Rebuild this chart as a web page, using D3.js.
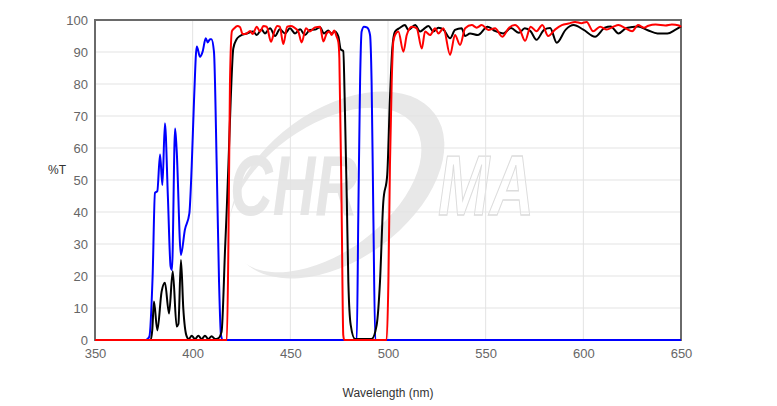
<!DOCTYPE html>
<html><head><meta charset="utf-8">
<script src="https://cdn.jsdelivr.net/npm/d3@7"></script>
<style>html,body{margin:0;padding:0;background:#fff;}svg{display:block;font-family:"Liberation Sans",Arial,sans-serif;}</style>
</head><body>
<script>
const xTicks = [350,400,450,500,550,600,650];
const yTicks = [0,10,20,30,40,50,60,70,80,90,100];
const xTitle = "Wavelength (nm)";
const yTitle = "%T";
const blueSeries = [[350,0],[376,0],[377.8,1],[379.5,20],[380.7,46],[381.9,46.5],[383.3,58],[384.5,48.4],[385.8,67.7],[387.3,45],[388.7,23],[389.4,21.9],[391,66.1],[391.8,59.4],[394,26.6],[396,34.4],[398.3,39.6],[399.5,54.2],[400.7,75],[402.1,91.7],[403.8,88.5],[405.1,90.1],[406.7,94.3],[407.7,93],[408.9,94],[409.6,94],[410.9,90.1],[412.3,54.7],[413.5,18.2],[414.5,1.5],[415.5,0],[484,0],[484.8,39],[485.7,80.7],[486.5,96.4],[487.7,97.9],[489.4,97.6],[490.8,95.3],[491.6,80.7],[492.5,39],[493.5,0],[650,0]];
const blackSeries = [[350,0],[378.5,0],[379.3,3],[380.2,12],[381.9,3],[384.1,15.1],[385.8,17.9],[387.9,8.3],[389.8,21.5],[391.8,4.2],[392.7,5],[394,25],[395.2,9.9],[396.9,1.2],[398,0.3],[399.5,1.3],[401.2,0.3],[402.9,1.3],[404.6,0.3],[406.3,1.3],[408,0.3],[409.7,1.2],[411.5,0.3],[413,0.5],[414.8,2.6],[416.6,28.6],[417.4,40.1],[418.3,54.7],[419.5,75.5],[420.8,91.1],[422.5,94],[424.2,95],[427.7,95.8],[431,96.4],[432.8,95.3],[435.3,97],[437,95.8],[439.6,97.4],[442.2,95],[444.6,97.1],[447.3,95.8],[449.8,97.4],[452.4,95.8],[455,97.1],[457.5,95.3],[460,96.9],[462.6,97],[465.2,97.7],[467.2,95.8],[469.4,96.7],[471,95.8],[472.8,96.4],[474.6,94.8],[475.8,90.8],[477.1,90.3],[478,70.3],[478.9,44.3],[479.7,18.2],[480.9,4.7],[483.1,0.3],[491.6,0.3],[494.2,4.7],[495.9,18.2],[497.6,43.2],[499.6,51.6],[501,75.5],[502.2,91.1],[503.6,96.4],[506,97.5],[508.7,98.4],[510.4,96.9],[513.9,98.4],[516.4,96.4],[518,97],[520.7,98.1],[523.2,96.4],[525.8,97.6],[528.4,97],[531.8,94.3],[534.3,96.9],[537.7,97.4],[539.5,95],[542,95.8],[546,95.3],[551,97.9],[555,96.5],[559,95.8],[563,97.5],[567,96],[570,97.4],[573,96.5],[576,93.8],[580,97],[583,97.5],[586.4,92.9],[591,97],[595,98.4],[600,97],[606,94.8],[611,97.6],[614,98],[618,95.8],[622,97.5],[628,98],[633,96.8],[638,95.8],[643,95.8],[647,96.9],[650,98]];
const redSeries = [[350,0],[417.5,0],[418.3,30],[419.1,80.7],[420.1,96.5],[421.3,97.4],[422.9,98.1],[424.2,97.8],[425.6,95.6],[427.7,95.8],[429.4,96.6],[430.7,95.6],[432.8,97.9],[434.5,96.4],[436.2,98.1],[437.9,97.9],[440.1,93.2],[441.8,96.4],[443.3,98.1],[444.6,97.9],[446.4,92.5],[448.4,97.9],[450.2,98.1],[451.9,97.7],[454.1,96.4],[455.8,93],[458,97.4],[460,96.4],[462.6,97.7],[465.2,97.9],[466.9,93.3],[468.6,95.8],[470,96.4],[471.2,95.3],[472.4,96.7],[473.7,94.8],[474.6,93],[475.1,88],[476.3,39],[477.1,1.5],[477.6,0],[499.3,0],[500.2,18.2],[501,54.7],[501.9,80.7],[502.7,93.2],[503.6,95.3],[505.3,96.4],[507.9,90.1],[509.6,95.3],[512.2,97.9],[514.7,97.4],[517.3,91.1],[519,96.4],[521.5,95.3],[524.1,97.4],[525.8,95.8],[528.4,97.4],[531.8,89.1],[534.3,95.3],[536.9,92.2],[539.5,97.4],[542.9,98.4],[545.4,97.6],[548,98.4],[551.4,96.9],[554.8,97.4],[558.5,94.8],[562,97.6],[565,98.4],[567.5,97],[570.2,93.5],[573,97.9],[576,96.5],[579,98.4],[582,95],[585.5,97],[589,98.4],[592.4,98.9],[595.8,99.4],[599,99],[601.7,99.4],[605,96.5],[608.6,97.9],[612,97],[615.4,97.9],[618,98.4],[621.4,97.5],[625,96.5],[628,98.4],[631,97.6],[633.3,98.2],[637,98.6],[642,98.3],[645.3,98.6],[649,98.3],[650,97.8]];

const W = 777, H = 406;
const m = {left:95, right:96, top:20, bottom:66};
const svg = d3.select("body").append("svg").attr("width",W).attr("height",H);
svg.append("rect").attr("width",W).attr("height",H).attr("fill","#fff");

const x = d3.scaleLinear().domain([350,650]).range([m.left, W-m.right]);
const y = d3.scaleLinear().domain([0,100]).range([H-m.bottom, m.top]);

// watermark
const wm = svg.append("g").attr("class","watermark");
wm.append("ellipse").attr("cx",337).attr("cy",185).attr("rx",121).attr("ry",75)
  .attr("transform","rotate(-36 337 185)").attr("fill","#e8e8e8");
wm.append("ellipse").attr("cx",325).attr("cy",190).attr("rx",110).attr("ry",63)
  .attr("transform","rotate(-36 325 190)").attr("fill","#fff");
wm.append("text").attr("x",230).attr("y",215).attr("font-size",86).attr("font-weight","bold")
  .attr("font-style","italic").attr("fill","#e6e6e6").attr("textLength",128).attr("lengthAdjust","spacingAndGlyphs").text("CHR");
wm.append("text").attr("x",438).attr("y",215).attr("font-size",86).attr("font-weight","bold")
  .attr("font-style","italic").attr("fill","none").attr("stroke","#dcdcdc").attr("stroke-width",1.3)
  .attr("textLength",96).attr("lengthAdjust","spacingAndGlyphs").text("MA");

// grid
svg.append("g").selectAll("line").data(xTicks).join("line")
  .attr("x1",d=>x(d)).attr("x2",d=>x(d)).attr("y1",y(100)).attr("y2",y(0))
  .attr("stroke","#e3e3e3").attr("stroke-width",1);
svg.append("g").selectAll("line").data(yTicks).join("line")
  .attr("x1",x(350)).attr("x2",x(650)).attr("y1",d=>y(d)).attr("y2",d=>y(d))
  .attr("stroke","#e3e3e3").attr("stroke-width",1);

// axes
const xAxis = svg.append("g").attr("transform",`translate(0,${y(0)})`)
  .call(d3.axisBottom(x).tickValues(xTicks).tickFormat(d3.format("d")).tickSize(0).tickPadding(9));
const yAxis = svg.append("g").attr("transform",`translate(${x(350)},0)`)
  .call(d3.axisLeft(y).tickValues(yTicks).tickFormat(d3.format("d")).tickSize(0).tickPadding(7));
[xAxis,yAxis].forEach(a=>{a.select(".domain").remove();
  a.selectAll("text").attr("fill","#666").attr("font-size",13).attr("font-family","'Liberation Sans',Arial,sans-serif");});

// frame
svg.append("rect").attr("x",x(350)).attr("y",y(100)).attr("width",x(650)-x(350)).attr("height",y(0)-y(100))
  .attr("fill","none").attr("stroke","#6a6a6a").attr("stroke-width",2);

// lines
const line = d3.line().x(d=>x(d[0])).y(d=>y(d[1])).curve(d3.curveMonotoneX);
const series = [{data:blueSeries,color:"#0000ff"},{data:blackSeries,color:"#000"},{data:redSeries,color:"#ff0000"}];
svg.append("g").selectAll("path").data(series).join("path")
  .attr("d",d=>line(d.data)).attr("fill","none").attr("stroke",d=>d.color)
  .attr("stroke-width",2).attr("stroke-linejoin","round");

// titles
svg.append("text").attr("x",57).attr("y",y(53)).attr("text-anchor","middle").attr("dominant-baseline","middle")
  .attr("font-size",12).attr("fill","#333").text(yTitle);
svg.append("text").attr("x",(x(350)+x(650))/2).attr("y",394).attr("text-anchor","middle").attr("dominant-baseline","middle")
  .attr("font-size",12).attr("fill","#333").text(xTitle);
</script>
</body></html>
